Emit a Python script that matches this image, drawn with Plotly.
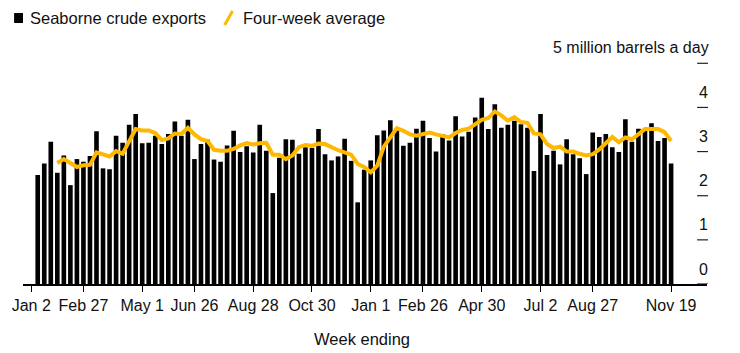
import pandas as pd
import plotly.graph_objects as go

# ---- data -------------------------------------------------------------
week_ending = pd.date_range("2022-01-09", periods=98, freq="7D")

exports = [
    2.47, 2.73, 3.22, 2.52, 2.91, 2.24, 2.83, 2.77, 2.90, 3.46,
    2.62, 2.60, 3.36, 3.20, 3.61, 3.85, 3.19, 3.20, 3.36, 3.17,
    3.40, 3.68, 3.36, 3.72, 2.83, 3.17, 3.27, 2.82, 2.77, 3.14,
    3.47, 2.99, 3.12, 2.98, 3.61, 3.02, 2.06, 2.86, 3.28, 3.27,
    2.95, 3.10, 3.08, 3.51, 2.94, 2.80, 2.89, 3.29, 2.79, 1.85,
    2.59, 2.80, 3.37, 3.48, 3.71, 3.53, 3.13, 3.20, 3.52, 3.70,
    3.31, 3.00, 3.39, 3.25, 3.80, 3.34, 3.45, 3.77, 4.22, 3.51,
    4.07, 3.54, 3.61, 3.70, 3.62, 3.54, 2.56, 3.85, 2.92, 3.02,
    2.71, 3.28, 2.94, 2.85, 2.49, 3.43, 3.33, 3.40, 3.10, 2.99,
    3.73, 3.22, 3.52, 3.51, 3.64, 3.24, 3.31, 2.73,
]

four_week_avg = [
    2.74, 2.83, 2.74, 2.65, 2.69, 2.70, 2.98, 2.94, 2.89, 3.01,
    2.95, 3.23, 3.51, 3.48, 3.48, 3.42, 3.26, 3.30, 3.41, 3.40,
    3.54, 3.39, 3.28, 3.24, 3.04, 3.02, 3.02, 3.06, 3.14, 3.19,
    3.16, 3.19, 3.20, 2.93, 2.93, 2.83, 2.91, 3.10, 3.15, 3.13,
    3.18, 3.17, 3.09, 3.03, 2.98, 2.93, 2.72, 2.65, 2.53, 2.68,
    3.11, 3.34, 3.53, 3.47, 3.39, 3.36, 3.40, 3.43, 3.39, 3.35,
    3.32, 3.42, 3.49, 3.52, 3.62, 3.72, 3.76, 3.91, 3.82, 3.70,
    3.78, 3.67, 3.65, 3.41, 3.39, 3.17, 3.08, 3.11, 3.00, 3.00,
    2.95, 2.91, 2.94, 3.05, 3.19, 3.33, 3.21, 3.32, 3.28, 3.39,
    3.51, 3.51, 3.51, 3.44, 3.24,
]
avg_dates = week_ending[3:]

tick_dates = ["2022-01-02", "2022-02-27", "2022-05-01", "2022-06-26",
              "2022-08-28", "2022-10-30", "2023-01-01", "2023-02-26",
              "2023-04-30", "2023-07-02", "2023-08-27", "2023-11-19"]
tick_text = ["Jan 2", "Feb 27", "May 1", "Jun 26", "Aug 28", "Oct 30",
             "Jan 1", "Feb 26", "Apr 30", "Jul 2", "Aug 27", "Nov 19"]

y_ticks = [0, 1, 2, 3, 4, 5]
y_tick_text = ["0", "1", "2", "3", "4", "5 million barrels a day"]

# ---- layout geometry --------------------------------------------------
W, H = 740, 353
L, R, T, B = 15, 33, 40, 69
PW, PH = W - L - R, H - T - B
YMAX = PH / 44.14
FONT = "Liberation Sans, Arial, sans-serif"
YELLOW = "#FFB800"


def px_x(px):
    return (px - L) / PW


def px_y(py):
    return (H - B - py) / PH


fig = go.Figure()
fig.add_trace(go.Bar(x=week_ending, y=exports, marker=dict(color="#000000", line=dict(width=0)),
                     name="Seaborne crude exports", showlegend=False))
fig.add_trace(go.Scatter(x=avg_dates, y=four_week_avg, mode="lines",
                         line=dict(color=YELLOW, width=4),
                         name="Four-week average", showlegend=False))

shapes = []
annotations = []
# right-side y tick marks and labels
for v, t in zip(y_ticks, y_tick_text):
    shapes.append(dict(type="line", xref="paper", yref="y",
                       x0=px_x(697), x1=px_x(708), y0=v, y1=v,
                       line=dict(color="#222222", width=1.2)))
    if v < 5:
        annotations.append(dict(xref="paper", yref="y", x=px_x(703), y=v + 15 / 44.14,
                                text=t, showarrow=False, xanchor="center", yanchor="middle",
                                font=dict(family=FONT, size=16, color="#111111")))
    else:
        annotations.append(dict(xref="paper", yref="y", x=px_x(711), y=v + 16 / 44.14,
                                text=t, showarrow=False, xanchor="right", yanchor="middle",
                                font=dict(family=FONT, size=16, color="#111111")))

# legend
shapes.append(dict(type="rect", xref="paper", yref="paper",
                   x0=px_x(6), x1=px_x(15), y0=px_y(23), y1=px_y(13),
                   fillcolor="#000000", line=dict(width=0)))
shapes.append(dict(type="line", xref="paper", yref="paper",
                   x0=px_x(219), x1=px_x(227), y0=px_y(25), y1=px_y(11),
                   line=dict(color=YELLOW, width=3)))
annotations.append(dict(xref="paper", yref="paper", x=px_x(20), y=px_y(18),
                        text="Seaborne crude exports", showarrow=False,
                        xanchor="left", yanchor="middle",
                        font=dict(family=FONT, size=16.5, color="#111111")))
annotations.append(dict(xref="paper", yref="paper", x=px_x(236), y=px_y(18),
                        text="Four-week average", showarrow=False,
                        xanchor="left", yanchor="middle",
                        font=dict(family=FONT, size=16.5, color="#111111")))
annotations.append(dict(xref="paper", yref="paper", x=px_x(358), y=px_y(339),
                        text="Week ending", showarrow=False,
                        xanchor="center", yanchor="middle",
                        font=dict(family=FONT, size=16.5, color="#111111")))

fig.update_layout(
    width=W, height=H,
    margin=dict(l=L, r=R, t=T, b=B, pad=0),
    paper_bgcolor="white", plot_bgcolor="white",
    bargap=0.29,
    shapes=shapes, annotations=annotations,
    font=dict(family=FONT, size=16, color="#111111"),
    xaxis=dict(type="date", range=["2021-12-24 05:00", "2023-12-27 12:00"],
               tickvals=tick_dates, ticktext=tick_text,
               ticks="outside", ticklen=6, tickwidth=1, tickcolor="#000000",
               showline=True, linecolor="#000000", linewidth=1.5,
               showgrid=False, zeroline=False,
               tickfont=dict(family=FONT, size=16, color="#111111")),
    yaxis=dict(range=[0, YMAX], showgrid=False, zeroline=False,
               showticklabels=False, ticks="", showline=False),
)

fig.write_html("out.html")
